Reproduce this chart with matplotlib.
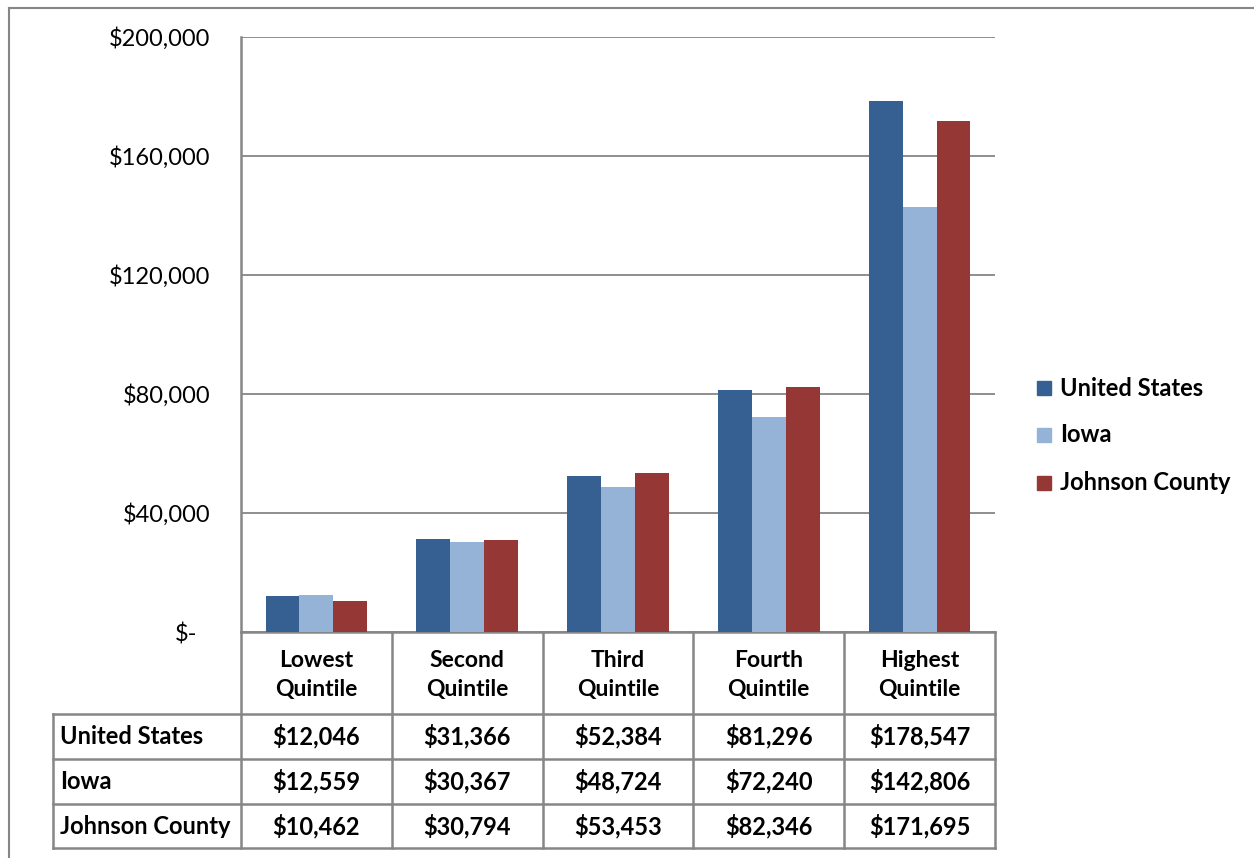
import matplotlib
matplotlib.use("Agg")
import matplotlib.pyplot as plt
from matplotlib.patches import Rectangle
from matplotlib.lines import Line2D
from matplotlib.transforms import ScaledTranslation
import numpy as np

categories = ["Lowest\nQuintile", "Second\nQuintile", "Third\nQuintile", "Fourth\nQuintile", "Highest\nQuintile"]
series_names = ["United States", "Iowa", "Johnson County"]
us = [12046, 31366, 52384, 81296, 178547]
iowa = [12559, 30367, 48724, 72240, 142806]
johnson = [10462, 30794, 53453, 82346, 171695]
yticks = [0, 40000, 80000, 120000, 160000, 200000]
ytick_labels = ["$-", "$40,000", "$80,000", "$120,000", "$160,000", "$200,000"]

colors = ["#376092", "#95B3D7", "#953735"]
grid_c = "#868686"
FONT = "Lato"
plt.rcParams['font.family'] = [FONT, 'DejaVu Sans']

W, H = 1254, 858
fig = plt.figure(figsize=(W / 100, H / 100), dpi=100)

def fx(px):
    return px / W

def fy(py):
    return 1 - py / H

# outer border (cut off on right/bottom)
fig.add_artist(Line2D([fx(9), fx(9)], [fy(8), 0], transform=fig.transFigure, color="#868686", lw=1.5))
fig.add_artist(Line2D([fx(9), 1], [fy(8), fy(8)], transform=fig.transFigure, color="#868686", lw=1.5))

ax_l, ax_r, ax_t, ax_b = 241, 995, 37, 632
ax = fig.add_axes([fx(ax_l), fy(ax_b), fx(ax_r) - fx(ax_l), fy(ax_t) - fy(ax_b)])

data = [us, iowa, johnson]
x = np.arange(len(categories))
bw = 0.225
for i, (vals, c, name) in enumerate(zip(data, colors, series_names)):
    ax.bar(x + (i - 1) * bw, vals, bw, color=c, label=name, zorder=3, linewidth=0)

ax.set_xlim(-0.5, len(categories) - 0.5)
ax.set_ylim(0, 200000)
ax.set_yticks(yticks)
ax.set_yticklabels(ytick_labels, fontsize=17)
ax.tick_params(axis='y', length=0, pad=22)
ax.set_xticks([])
ax.yaxis.grid(True, color=grid_c, lw=1.3, zorder=1)
for s in ["top", "right"]:
    ax.spines[s].set_visible(False)
for s in ["left", "bottom"]:
    ax.spines[s].set_color(grid_c)
    ax.spines[s].set_linewidth(1.8)
zero_lab = ax.get_yticklabels()[0]
zero_lab.set_transform(zero_lab.get_transform() + ScaledTranslation(-0.13, 0, fig.dpi_scale_trans))

# Data table
row_edges = [632, 714, 759, 804, 848]
col_left = 53
tlw = 1.8
TFS = 17
def hline(y, x0, x1):
    fig.add_artist(Line2D([fx(x0), fx(x1)], [fy(y), fy(y)], transform=fig.transFigure, color=grid_c, lw=tlw))
def vline(xp, y0, y1):
    fig.add_artist(Line2D([fx(xp), fx(xp)], [fy(y0), fy(y1)], transform=fig.transFigure, color=grid_c, lw=tlw))

col_edges = [ax_l + (ax_r - ax_l) * k / len(categories) for k in range(len(categories) + 1)]
for y in row_edges[1:]:
    hline(y, col_left, ax_r)
vline(col_left, row_edges[1], row_edges[4])
for ce in col_edges:
    vline(ce, row_edges[0], row_edges[4])

for j, cat in enumerate(categories):
    cx = (col_edges[j] + col_edges[j + 1]) / 2
    cy = (row_edges[0] + row_edges[1]) / 2 + 2
    fig.text(fx(cx), fy(cy), cat, ha="center", va="center", fontsize=16.5, fontweight="bold", linespacing=1.42)

for r, (name, vals) in enumerate(zip(series_names, data)):
    cy = (row_edges[r + 1] + row_edges[r + 2]) / 2
    fig.text(fx(col_left + 7), fy(cy), name, ha="left", va="center", fontsize=TFS, fontweight="bold")
    for j, v in enumerate(vals):
        cx = (col_edges[j] + col_edges[j + 1]) / 2
        fig.text(fx(cx), fy(cy), f"${v:,}", ha="center", va="center", fontsize=TFS, fontweight="bold")

# Legend
leg_y = [388, 435, 483]
for name, c, ly in zip(series_names, colors, leg_y):
    fig.add_artist(Rectangle((fx(1037), fy(ly + 7)), fx(14), 14 / H, transform=fig.transFigure, color=c))
    fig.text(fx(1060), fy(ly), name, ha="left", va="center", fontsize=TFS, fontweight="bold")

fig.savefig("out.png", dpi=100)
